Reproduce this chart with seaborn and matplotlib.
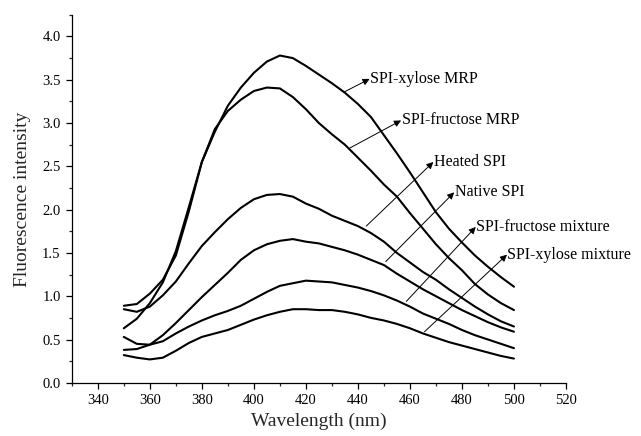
import numpy as np
import pandas as pd
import matplotlib
matplotlib.use("Agg")
import matplotlib.pyplot as plt
from matplotlib.ticker import MultipleLocator, FormatStrFormatter
import seaborn as sns

# wavelength grid (nm)
wavelength = list(range(350, 501, 5))

# fluorescence intensity
xylose_mrp = [0.89, 0.91, 1.03, 1.19, 1.47, 1.98, 2.55, 2.90, 3.20, 3.41, 3.58,
              3.71, 3.78, 3.75, 3.66, 3.56, 3.46, 3.35, 3.22, 3.07, 2.86, 2.65,
              2.43, 2.20, 1.97, 1.78, 1.62, 1.47, 1.34, 1.22, 1.11]
fructose_mrp = [0.63, 0.74, 0.92, 1.16, 1.52, 2.03, 2.55, 2.93, 3.14, 3.27, 3.37,
                3.41, 3.40, 3.30, 3.16, 3.00, 2.87, 2.75, 2.60, 2.45, 2.29, 2.15,
                1.96, 1.78, 1.60, 1.44, 1.30, 1.14, 1.02, 0.92, 0.84]
heated_spi = [0.85, 0.82, 0.88, 1.01, 1.17, 1.38, 1.58, 1.74, 1.89, 2.02, 2.12,
              2.17, 2.18, 2.15, 2.07, 2.01, 1.93, 1.87, 1.81, 1.73, 1.63, 1.50,
              1.39, 1.28, 1.19, 1.08, 0.98, 0.88, 0.79, 0.71, 0.65]
native_spi = [0.38, 0.39, 0.44, 0.55, 0.69, 0.84, 0.99, 1.13, 1.27, 1.42, 1.53,
              1.60, 1.64, 1.66, 1.63, 1.61, 1.57, 1.53, 1.48, 1.42, 1.36, 1.26,
              1.17, 1.08, 1.00, 0.92, 0.84, 0.77, 0.70, 0.64, 0.59]
fructose_mix = [0.53, 0.45, 0.44, 0.48, 0.57, 0.65, 0.72, 0.78, 0.83, 0.89, 0.97,
                1.05, 1.12, 1.15, 1.18, 1.17, 1.16, 1.13, 1.10, 1.06, 1.01, 0.95,
                0.88, 0.80, 0.74, 0.68, 0.61, 0.55, 0.50, 0.45, 0.40]
xylose_mix = [0.32, 0.29, 0.27, 0.29, 0.37, 0.46, 0.53, 0.57, 0.61, 0.67, 0.73,
              0.78, 0.82, 0.85, 0.85, 0.84, 0.84, 0.82, 0.79, 0.75, 0.72, 0.68,
              0.63, 0.57, 0.52, 0.47, 0.43, 0.39, 0.35, 0.31, 0.28]

series_names = ["SPI-xylose MRP", "SPI-fructose MRP", "Heated SPI",
                "Native SPI", "SPI-fructose mixture", "SPI-xylose mixture"]
series_values = [xylose_mrp, fructose_mrp, heated_spi, native_spi,
                 fructose_mix, xylose_mix]

# label position (= arrow head) and arrow tail on the curve, data coords
label_xy = [(444.5, 3.51), (456.6, 3.03), (469.0, 2.55),
            (477.0, 2.20), (485.3, 1.80), (497.3, 1.48)]
arrow_tail = [(434.8, 3.36), (436.8, 2.71), (443.2, 1.81),
              (450.7, 1.40), (458.6, 0.94), (465.6, 0.59)]

df = pd.DataFrame({
    "wavelength": wavelength * len(series_names),
    "intensity": sum(series_values, []),
    "sample": [n for n in series_names for _ in wavelength],
})

sns.set_style("ticks")
plt.rcParams["font.family"] = ["Liberation Serif", "DejaVu Serif"]

fig = plt.figure(figsize=(6.41, 4.36), dpi=100)
ax = fig.add_axes([0.112, 0.122, 0.771, 0.844])

sns.lineplot(data=df, x="wavelength", y="intensity", units="sample",
             estimator=None, color="black", linewidth=1.5, ax=ax,
             legend=False)

for name, (tx, ty), (x0, y0) in zip(series_names, label_xy, arrow_tail):
    ax.annotate("", xy=(tx, ty), xytext=(x0, y0),
                arrowprops=dict(arrowstyle="-|>", lw=0.7, color="black",
                                mutation_scale=10, shrinkA=0, shrinkB=0))
    ax.text(tx + 0.2, ty, name, fontsize=11.5, va="center", ha="left",
            color="black")

ax.set_xlim(330, 520)
ax.set_ylim(0, 4.25)
ax.set_xticks(range(340, 521, 20))
ax.xaxis.set_minor_locator(MultipleLocator(10))
ax.yaxis.set_major_locator(MultipleLocator(0.5))
ax.yaxis.set_minor_locator(MultipleLocator(0.25))
ax.yaxis.set_major_formatter(FormatStrFormatter("%.1f"))

ax.tick_params(which="major", direction="out", length=4.5, width=0.9,
               labelsize=10.5, colors="black")
ax.tick_params(which="minor", direction="out", length=2.5, width=0.9)
for s in ["left", "bottom"]:
    ax.spines[s].set_linewidth(0.9)
    ax.spines[s].set_color("black")
sns.despine(ax=ax)

ax.set_xlabel("Wavelength (nm)", fontsize=14, labelpad=4)
ax.set_ylabel("Fluorescence intensity", fontsize=14, labelpad=8)

fig.savefig("out.png", dpi=100)
